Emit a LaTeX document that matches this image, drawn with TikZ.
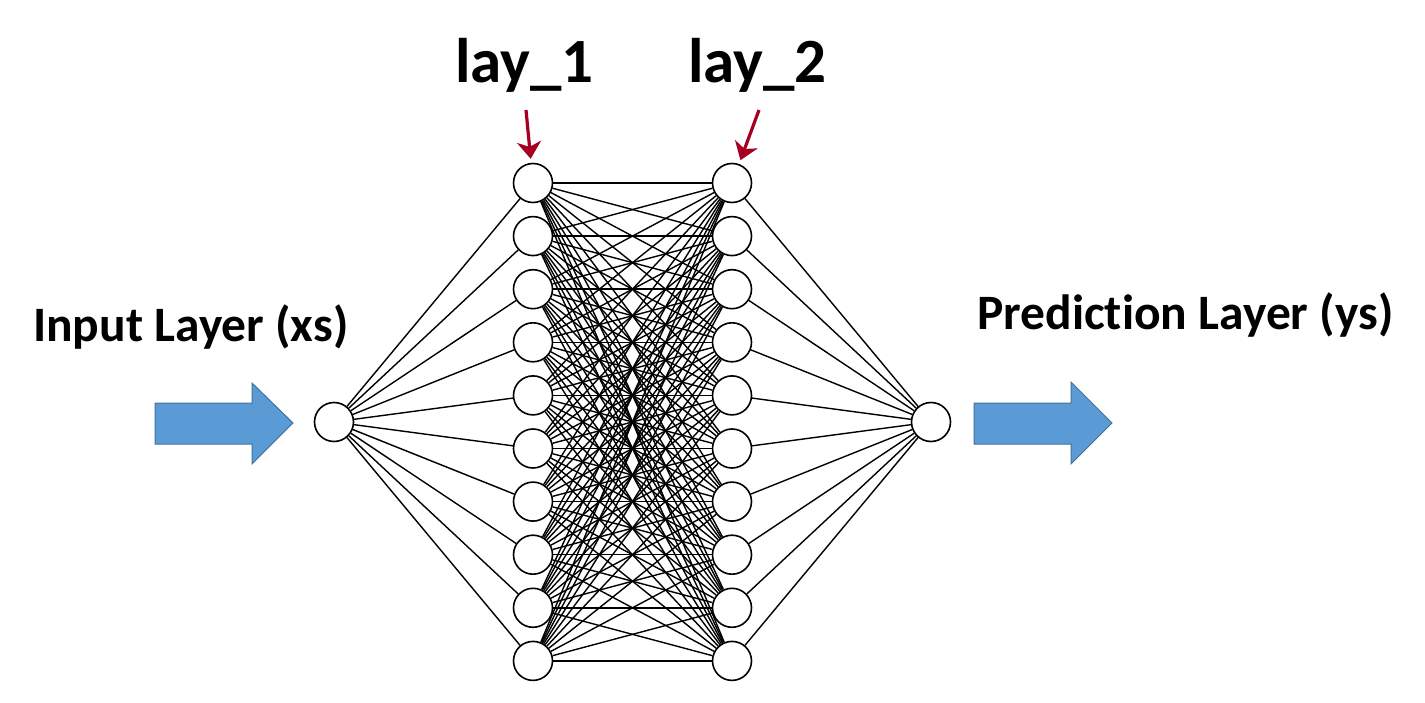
\documentclass[tikz,border=0pt]{standalone}
\usepackage{fontspec}
\setmainfont{Carlito}[Ligatures=NoCommon]
\usepackage{tikz}
\usetikzlibrary{arrows.meta}
\definecolor{arrblue}{HTML}{5B9BD5}
\definecolor{arrline}{HTML}{41719C}
\definecolor{layred}{HTML}{A50021}
\tikzset{>=stealth}
\tikzset{neuron/.style={circle,draw,fill=white,line width=1.6pt,minimum size=39pt,inner sep=0pt},
  link/.style={line width=1.4pt},
  bigarrow/.style={fill=arrblue,draw=arrline,line width=1pt},
  layarrow/.style={-{Stealth[length=17pt,width=24pt,inset=5pt]},layred,line width=3.2pt,shorten >=4pt},
  lbl/.style={anchor=base west,inner sep=0pt,font=\bfseries\fontsize{49.5}{54}\selectfont},
  laylbl/.style={anchor=base west,inner sep=0pt,font=\bfseries\fontsize{63}{66}\selectfont}}

\begin{document}
\begin{tikzpicture}[x=1pt,y=-1pt]
    \useasboundingbox (0,0) rectangle (1425,703);

    \node[neuron] (in) at (334,422) {};
    \node[neuron] (out) at (931,422) {};
    \foreach \i in {1,...,10}{
        \node[neuron] (a\i) at (533,{183+53.1*(\i-1)}) {};
        \node[neuron] (b\i) at (732,{183+53.1*(\i-1)}) {};
    }
    \foreach \i in {1,...,10}{
        \draw[link] (in) -- (a\i);
        \draw[link] (b\i) -- (out);
        \foreach \j in {1,...,10}
            \draw[link] (a\i) -- (b\j);
    }

    \draw[bigarrow] (155,403) -- (252,403) -- (252,383) -- (293,423) -- (252,464) -- (252,444) -- (155,444) -- cycle;
    \draw[bigarrow] (974,403) -- (1071,403) -- (1071,382) -- (1112,423) -- (1071,464) -- (1071,444) -- (974,444) -- cycle;

    \node[lbl] (xs) at (33,342) {Input Layer (xs)};
    \node[lbl] (ys) at (977,330) {Prediction Layer (ys)};
    \node[laylbl] (lay1) at (455,83) {lay\_1};
    \node[laylbl] (lay2) at (688,83) {lay\_2};

    \coordinate (s1) at (526,110);
    \coordinate (s2) at (759,110);
    \draw[layarrow] (s1) -- (a1);
    \draw[layarrow] (s2) -- (b1);
\end{tikzpicture}
\end{document}
